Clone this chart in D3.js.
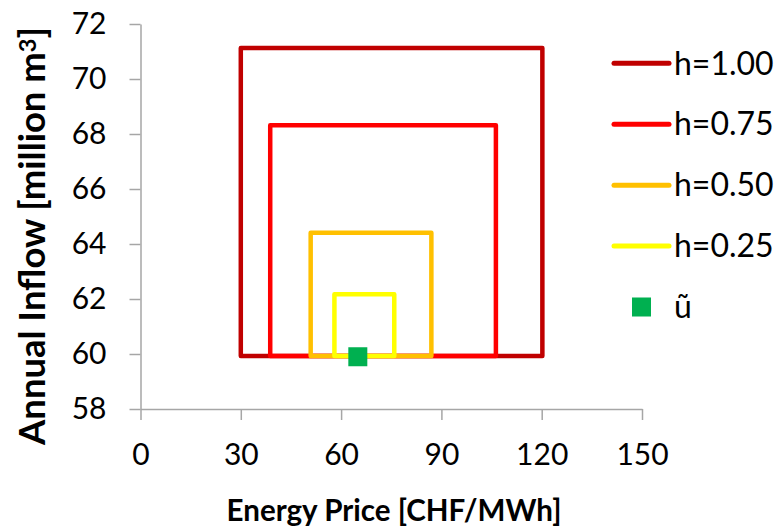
<!DOCTYPE html>
<html>
<head>
<meta charset="utf-8">
<script src="https://cdn.jsdelivr.net/npm/d3@7/dist/d3.min.js"></script>
<style>
  body { margin: 0; background: #fff; }
  .axis text { font-family: Lato, "Open Sans", sans-serif; fill: #000; }
  .axis path, .axis line { stroke: #a6a6a6; stroke-width: 1.5px; }
  .title { font-family: Lato, "Open Sans", sans-serif; font-weight: bold; fill: #000; }
  .legend text { font-family: Lato, "Open Sans", sans-serif; fill: #000; }
</style>
</head>
<body>
<div class="chart"></div>
<script>
// data
var boxLabels = ["h=1.00", "h=0.75", "h=0.50", "h=0.25"];
var priceLow = [30, 38.8, 50.9, 58.0];
var priceHigh = [120.2, 106.3, 87.0, 75.9];
var inflowLow = [59.93, 59.93, 59.93, 59.93];
var inflowHigh = [71.13, 68.32, 64.41, 62.17];
var nominalLabel = "ũ";
var nominalPrice = [65];
var nominalInflow = [59.9];
var xTicks = [0, 30, 60, 90, 120, 150];
var yTicks = [58, 60, 62, 64, 66, 68, 70, 72];

var boxColors = ["#c00000", "#ff0000", "#ffc000", "#ffff00"];
var pointColor = "#00b050";

var svgWidth = 782;
var svgHeight = 529;

var svg = d3.select(".chart")
    .append("svg")
    .attr("width", svgWidth)
    .attr("height", svgHeight);

var xScale = d3.scaleLinear().domain([0, 150]).range([140.5, 642]);
var yScale = d3.scaleLinear().domain([58, 72]).range([409, 24]);

// axes
var bottomAxis = d3.axisBottom(xScale)
    .tickValues(xTicks)
    .tickSize(11)
    .tickSizeOuter(0)
    .tickPadding(24);
var leftAxis = d3.axisLeft(yScale)
    .tickValues(yTicks)
    .tickSize(11)
    .tickSizeOuter(0)
    .tickPadding(23);

svg.append("g")
    .attr("class", "axis")
    .attr("transform", `translate(0, ${yScale(58)})`)
    .call(bottomAxis)
    .selectAll("text")
    .attr("font-size", 30);

svg.append("g")
    .attr("class", "axis")
    .attr("transform", `translate(${xScale(0)}, 0)`)
    .call(leftAxis)
    .selectAll("text")
    .attr("font-size", 30);

// boxes
var boxes = boxLabels.map(function(label, i) {
  return { label: label, x0: priceLow[i], x1: priceHigh[i], y0: inflowLow[i], y1: inflowHigh[i], color: boxColors[i] };
});

svg.selectAll(".box")
    .data(boxes)
    .enter()
    .append("path")
    .attr("class", "box")
    .attr("d", function(d) {
      var p = d3.path();
      p.moveTo(xScale(d.x0), yScale(d.y0));
      p.lineTo(xScale(d.x0), yScale(d.y1));
      p.lineTo(xScale(d.x1), yScale(d.y1));
      p.lineTo(xScale(d.x1), yScale(d.y0));
      p.closePath();
      return p.toString();
    })
    .attr("fill", "none")
    .attr("stroke", d => d.color)
    .attr("stroke-width", 4.5)
    .attr("stroke-linejoin", "round")
    .attr("stroke-linecap", "round");

// nominal point
var ms = 19;
svg.selectAll(".pt")
    .data(nominalPrice)
    .enter()
    .append("rect")
    .attr("class", "pt")
    .attr("x", (d, i) => xScale(d) - ms / 2)
    .attr("y", (d, i) => yScale(nominalInflow[i]) - ms / 2)
    .attr("width", ms)
    .attr("height", ms)
    .attr("fill", pointColor);

// legend
var legend = svg.append("g").attr("class", "legend");
var legY = d3.scaleLinear().domain([0, 4]).range([63.3, 307]);

var items = legend.selectAll(".item")
    .data(boxes)
    .enter()
    .append("g")
    .attr("transform", (d, i) => `translate(0, ${legY(i)})`);

items.append("line")
    .attr("x1", 614).attr("x2", 669)
    .attr("stroke", d => d.color)
    .attr("stroke-width", 5)
    .attr("stroke-linecap", "round");

items.append("text")
    .attr("x", 674)
    .attr("dy", "0.35em")
    .attr("font-size", 32)
    .text(d => d.label);

var uItem = legend.append("g").attr("transform", `translate(0, ${legY(4)})`);
uItem.append("rect")
    .attr("x", 641.5 - ms / 2).attr("y", -ms / 2)
    .attr("width", ms).attr("height", ms)
    .attr("fill", pointColor);
uItem.append("text")
    .attr("x", 674)
    .attr("dy", "0.35em")
    .attr("font-size", 32)
    .text(nominalLabel);

// axis titles, sized to the widths seen in the picture
function fitFont(sel, target) {
  var w = sel.node().getComputedTextLength();
  var fs = +sel.attr("font-size");
  sel.attr("font-size", fs * target / w);
}

var xt = svg.append("text")
    .attr("class", "title")
    .attr("x", 394)
    .attr("y", 521)
    .attr("text-anchor", "middle")
    .attr("font-size", 30)
    .text("Energy Price [CHF/MWh]");
fitFont(xt, 335);

var yt = svg.append("text")
    .attr("class", "title")
    .attr("transform", "translate(45, 236) rotate(-90)")
    .attr("text-anchor", "middle")
    .attr("font-size", 30);
yt.append("tspan").text("Annual Inflow [million m");
yt.append("tspan").attr("font-size", "0.65em").attr("dy", "-0.4em").text("3");
yt.append("tspan").attr("dy", "0.26em").text("]");
fitFont(yt, 418);
</script>
</body>
</html>
